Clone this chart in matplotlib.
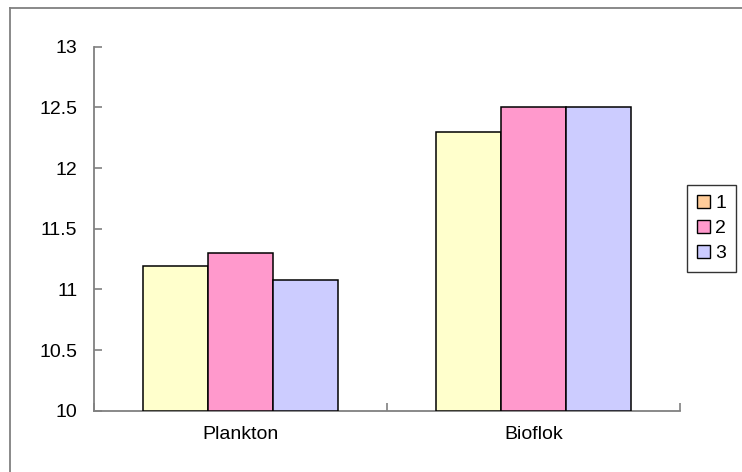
import matplotlib.pyplot as plt
import matplotlib.patches as mpatches
from matplotlib.lines import Line2D
import numpy as np

plt.rcParams['font.family'] = ['Liberation Sans', 'DejaVu Sans']

categories = ['Plankton', 'Bioflok']
series_names = ['1', '2', '3']
vals1 = [11.19, 12.30]
vals2 = [11.30, 12.50]
vals3 = [11.08, 12.50]
ytick_labels = ['10', '10.5', '11', '11.5', '12', '12.5', '13']
bar_colors = ['#FFFFCC', '#FF99CC', '#CCCCFF']
legend_colors = ['#FFCC99', '#FF99CC', '#CCCCFF']

fig = plt.figure(figsize=(7.42, 4.72), dpi=100)
ax = fig.add_axes([94 / 742, 1 - 410.7 / 472, 586 / 742, 364 / 472])

x = np.arange(len(categories))
w = 1 / 4.5
for i, vals in enumerate([vals1, vals2, vals3]):
    ax.bar(x + (i - 1) * w, np.array(vals) - 10, bottom=10, width=w,
           color=bar_colors[i], edgecolor='black', linewidth=1.1, zorder=3)

ax.set_xlim(-0.5, 1.5)
ax.set_ylim(10, 13)
ax.set_yticks(np.arange(10, 13.01, 0.5))
ax.set_yticklabels(ytick_labels, fontsize=14)
ax.set_xticks([-0.5, 0.5, 1.5])
ax.set_xticklabels([])
ax.set_xticks(x, minor=True)
ax.set_xticklabels(categories, minor=True, fontsize=14)
ax.tick_params(axis='x', which='minor', length=0, pad=11)
ax.tick_params(axis='x', which='major', length=6, width=1.2,
               color='#808080', direction='in')
ax.tick_params(axis='y', length=6, width=1.2, color='#808080',
               direction='in', pad=12)

for s in ['top', 'right']:
    ax.spines[s].set_visible(False)
for s in ['left', 'bottom']:
    ax.spines[s].set_color('#808080')
    ax.spines[s].set_linewidth(1.3)

handles = [mpatches.Patch(facecolor=c, edgecolor='black', linewidth=1.0)
           for c in legend_colors]
leg = fig.legend(handles, series_names, loc='center left',
                 bbox_to_anchor=(687 / 742, 1 - 228.5 / 472), frameon=True,
                 fancybox=False, fontsize=14, handlelength=0.7,
                 handleheight=0.65, handletextpad=0.25, borderpad=0.5,
                 labelspacing=0.4, borderaxespad=0)
leg.get_frame().set_edgecolor('black')
leg.get_frame().set_linewidth(1.0)

# outer chart-area frame (only left and top edges fall inside the image)
bx, by = 10 / 742, 1 - 8 / 472
fig.add_artist(Line2D([bx, bx], [0, by], transform=fig.transFigure,
                      color='#808080', linewidth=1.3))
fig.add_artist(Line2D([bx, 1], [by, by], transform=fig.transFigure,
                      color='#808080', linewidth=1.3))

fig.savefig('out.png', dpi=100)
